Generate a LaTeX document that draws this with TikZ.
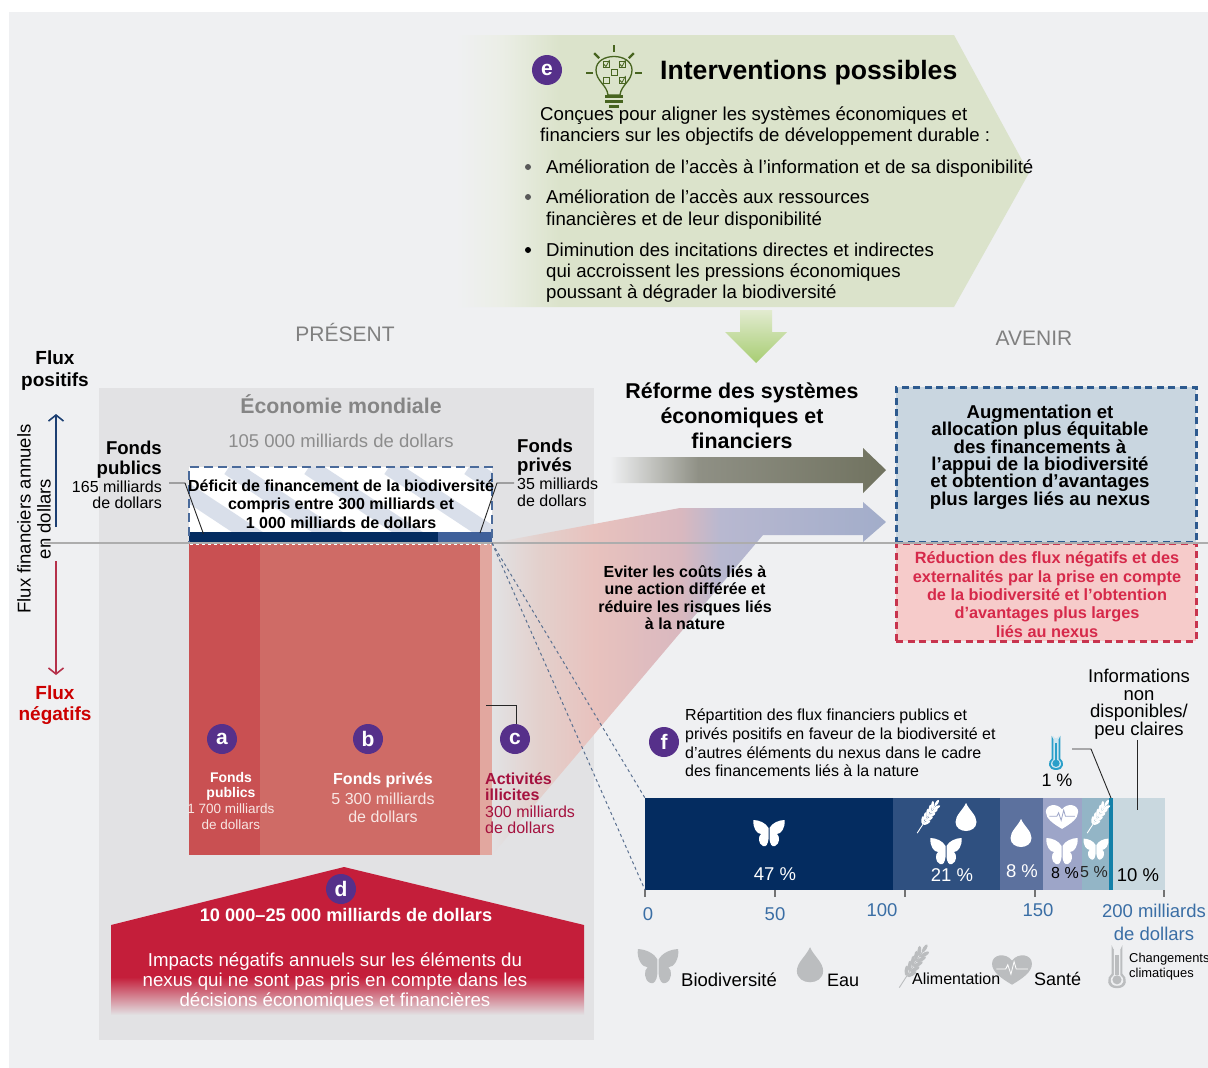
\documentclass[tikz,border=0pt]{standalone}
\usepackage{fontspec}
\setmainfont{Liberation Sans}
\usetikzlibrary{arrows.meta}
\newcommand{\fsz}[2]{\fontsize{#1}{#2}\lineskiplimit=-20pt\selectfont}
\definecolor{pagebg}{HTML}{EFF0F2}
\definecolor{econgrey}{HTML}{E2E2E4}
\definecolor{badge}{HTML}{56308A}
\definecolor{navy}{HTML}{042C60}
\definecolor{bulbgreen}{HTML}{47641F}
\definecolor{axisblue}{HTML}{3A6EA5}
\definecolor{wine}{HTML}{A5123F}
\definecolor{legendgrey}{HTML}{BBBDBF}
\definecolor{thermoblue}{HTML}{2A9FC9}
\definecolor{thermopale}{HTML}{CFE6F0}
\definecolor{sage}{HTML}{DBE3CB}
\definecolor{sagepale}{HTML}{EBEEE6}
\definecolor{leafgreen}{HTML}{A7CD72}
\definecolor{leafpale}{HTML}{E2EBD0}
\definecolor{olivegrey}{HTML}{70725F}
\definecolor{olivemid}{HTML}{8F9085}
\definecolor{pinka}{HTML}{E3D0CC}
\definecolor{pinkb}{HTML}{E8C2BE}
\definecolor{pinkc}{HTML}{D9B8BF}
\definecolor{lilaca}{HTML}{B8B8D0}
\definecolor{lilacb}{HTML}{A2ADCA}
\definecolor{redpub}{HTML}{C95052}
\definecolor{redpri}{HTML}{CF6B66}
\definecolor{redill}{HTML}{E2A79F}
\definecolor{crimson}{HTML}{C41E3A}
\definecolor{stripe}{HTML}{D9DFEA}
\definecolor{midblue}{HTML}{3F609A}
\definecolor{gapdash}{HTML}{4A6A9A}
\definecolor{boxblue}{HTML}{C9D6E0}
\definecolor{dashblue}{HTML}{2D5A8F}
\definecolor{boxpink}{HTML}{F6CBCA}
\definecolor{dashred}{HTML}{C8344E}
\definecolor{segb}{HTML}{2F5080}
\definecolor{segc}{HTML}{5C719E}
\definecolor{segd}{HTML}{9DA5C8}
\definecolor{sege}{HTML}{93B5C6}
\definecolor{segf}{HTML}{1380A8}
\definecolor{segg}{HTML}{C9D8DF}
\definecolor{slashgrey}{HTML}{5A7090}
\definecolor{upnavy}{HTML}{1C3F72}
\definecolor{downred}{HTML}{B5314A}
\definecolor{negred}{HTML}{CC0000}
\definecolor{softwhite}{HTML}{F8E6E3}
\definecolor{boxredtxt}{HTML}{D6294A}
\pgfdeclarehorizontalshading{greenfade}{100bp}{color(0bp)=(pagebg); color(25bp)=(pagebg); color(29bp)=(sagepale); color(34bp)=(sage); color(100bp)=(sage)}
\pgfdeclarehorizontalshading{greyfade}{100bp}{color(0bp)=(pagebg); color(25bp)=(pagebg); color(41bp)=(olivemid); color(75bp)=(olivegrey); color(100bp)=(olivegrey)}
\pgfdeclarehorizontalshading{nexusfade}{100bp}{color(0bp)=(econgrey); color(25bp)=(econgrey); color(31bp)=(pinka); color(38bp)=(pinkb); color(49bp)=(pinkc); color(54bp)=(lilaca); color(75bp)=(lilacb); color(100bp)=(lilacb)}
\tikzset{
  txt/.style={inner sep=0pt, align=center},
  txtl/.style={inner sep=0pt, align=left, anchor=west},
  txtr/.style={inner sep=0pt, align=right, anchor=east},
  letter/.style={circle, fill=badge, minimum size=30pt, inner sep=0pt, text=white, font=\fsz{21}{21}\bfseries},
  leader/.style={draw=black!85, line width=0.9pt},
  tick/.style={draw=black!55, line width=1.2pt},
  flux/.style={->, >={Straight Barb[length=6pt,width=15pt]}, line width=1.6pt},
  axislbl/.style={txt, text=axisblue, font=\fsz{18.5}{23}},
  pct/.style={txt, text=white, font=\fsz{18.5}{20}},
  bullet/.style={circle, inner sep=0pt, minimum size=6pt},
  dashbox/.style={line width=3pt, dash pattern=on 7pt off 4.6pt, inner sep=0pt, outer sep=0pt, anchor=north west},
}
% icons: x, y, scale, colour
\newcommand{\butterfly}[4]{
  \foreach \sgn in {1,-1}{
    \fill[#4, shift={(#1,#2)}, xscale=\sgn*#3, yscale=#3] (0.5,-5) .. controls (3,-10) and (10,-13) .. (15.5,-13) .. controls (16.5,-5) and (12,1) .. (8,1) .. controls (11,3) and (11,11) .. (6,13) .. controls (3,14.5) and (1,11) .. (0.5,6) -- cycle;
  }
}
\newcommand{\waterdrop}[4]{
  \foreach \sgn in {1,-1}{
    \fill[#4, shift={(#1,#2)}, xscale=\sgn*#3, yscale=#3] (0,-15) .. controls (3,-8) and (10.5,-3) .. (10.5,4) .. controls (10.5,10) and (5,13) .. (0,13) -- cycle;
  }
}
\newcommand{\wheat}[4]{
  \begin{scope}[shift={(#1,#2)}, scale=#3, rotate=-33]
    \draw[#4, line width=0.9pt] (0,18) -- (0,-16);
    \foreach \t in {-14,-9.5,-5,-0.5,4}{
      \fill[#4, rotate around={62:(2.4,\t)}] (2.4,\t) ellipse (4 and 1.5);
      \fill[#4, rotate around={-62:(-2.4,\t)}] (-2.4,\t) ellipse (4 and 1.5);
    }
    \fill[#4] (0,-18) ellipse (1.4 and 3.5);
  \end{scope}
}
\newcommand{\heartpulse}[5]{
  \begin{scope}[shift={(#1,#2)}, scale=#3]
    \fill[#4] (0,14) .. controls (-10,8) and (-19,2) .. (-19,-6) .. controls (-19,-15) and (-6,-17) .. (0,-9) .. controls (6,-17) and (19,-15) .. (19,-6) .. controls (19,2) and (10,8) .. (0,14) -- cycle;
    \draw[#5, line width=0.8pt] (-15,-1) -- (-6,-1) -- (-4,-5) -- (-1,4) -- (2,-8) -- (4,-1) -- (15,-1);
  \end{scope}
}
\newcommand{\thermo}[5]{
  \begin{scope}[shift={(#1,#2)}, scale=#3]
    \fill[#4] (-4.5,9) -- (-4.5,-15) arc (180:0:4.5) -- (4.5,9) .. controls (9,12) and (9,21) .. (0,21) .. controls (-9,21) and (-9,12) .. (-4.5,9) -- cycle;
    \fill[#5] (-2.7,10) -- (-2.7,-15) arc (180:0:2.7) -- (2.7,10) .. controls (7,13) and (6,19) .. (0,19) .. controls (-6,19) and (-7,13) .. (-2.7,10) -- cycle;
    \fill[#4] (-1.3,10) rectangle (1.3,-7);
    \fill[#4] (0,14) circle (3.8);
  \end{scope}
}
\begin{document}
\begin{tikzpicture}[x=1pt,y=-1pt]
  \useasboundingbox (0,0) rectangle (1208,1068);
  \fill[white] (0,0) rectangle (1208,1068);
  % backgrounds
  \fill[pagebg] (9,12) rectangle (1208,1068);
  \fill[econgrey] (99,388) rectangle (594,1040);

  % interventions arrow
  \shade[shading=greenfade] (456,35) -- (954,35) -- (1029,173) -- (954,307) -- (456,307) -- cycle;
  \shade[top color=leafpale, bottom color=leafgreen] (740,310) -- (772,310) -- (772,332) -- (787,332) -- (756,363) -- (725,332) -- (740,332) -- cycle;

  % arrows to the future
  \shade[shading=greyfade] (610,457) -- (863,457) -- (863,448) -- (886,470) -- (863,493) -- (863,483) -- (610,483) -- cycle;
  \shade[shading=nexusfade] (492,543) -- (680,508) -- (863,508) -- (863,502) -- (886,522) -- (863,542) -- (863,535) -- (763,535) -- (492,855) -- cycle;

  % negative flows
  \fill[redpub] (189,543) rectangle (260,855);
  \fill[redpri] (260,543) rectangle (480,855);
  \fill[redill] (480,543) rectangle (492,855);

  % impacts house
  \fill[crimson] (344,867) -- (584,925) -- (584,977) -- (111,977) -- (111,925) -- cycle;
  \shade[top color=crimson, bottom color=econgrey] (111,977) rectangle (584,1015);

  % funding gap
  \fill[white] (189,467) rectangle (492,543);
  \begin{scope}
    \clip (189,467) rectangle (492,543);
    \foreach \x in {69,149,229,309,389,469}
      \draw[stripe, line width=17pt] (\x,467) -- (\x+115,543);
  \end{scope}
  \fill[navy] (189,532) rectangle (438,542);
  \fill[midblue] (438,532) rectangle (492,542);
  \node[dashbox, draw=gapdash, line width=2.5pt, dash pattern=on 9pt off 5pt, minimum width=303pt, minimum height=76pt] (gapbox) at (189,467) {};

  % future boxes
  \node[dashbox, fill=boxblue, draw=dashblue, minimum width=300pt, minimum height=155pt] (boxup) at (896,387) {};
  \node[dashbox, fill=boxpink, draw=dashred, minimum width=300pt, minimum height=98pt] (boxdown) at (896,543) {};

  % zero line
  \draw[black!32, line width=2.6pt] (44,543) -- (1208,543);
  \draw[white, dashed, line width=0.8pt] (190,544.5) -- (491,544.5);

  % nature finance bar
  \foreach \xa/\xb/\col in {645/893/navy, 893/1000/segb, 1000/1043/segc, 1043/1082/segd, 1082/1108.5/sege, 1108.5/1113/segf, 1113/1165/segg}
    \fill[\col] (\xa,798) rectangle (\xb,890);
  \coordinate (barNW) at (645,798);
  \coordinate (barSW) at (645,890);
  \draw[slashgrey, dashed, line width=1pt] (gapbox.south east) -- (barNW);
  \draw[slashgrey, dashed, line width=1pt] (gapbox.south east) -- (barSW);
  \foreach \x in {645,775,905,1035,1164}
    \draw[tick] (\x,890) -- (\x,897);

  % bar icons
  \butterfly{769}{833}{1}{white}
  \wheat{927}{818}{1}{white}
  \waterdrop{966}{818}{1}{white}
  \butterfly{946}{851}{1}{white}
  \waterdrop{1021}{834}{1}{white}
  \heartpulse{1062}{817}{0.85}{white}{segd}
  \butterfly{1062}{851}{1}{white}
  \wheat{1097}{818}{1}{white}
  \butterfly{1096}{849}{0.8}{white}
  \thermo{1056}{750}{0.95}{thermoblue}{thermopale}

  % legend icons
  \butterfly{658}{966}{1.3}{legendgrey}
  \waterdrop{810}{966}{1.25}{legendgrey}
  \wheat{912}{968}{1.3}{legendgrey}
  \heartpulse{1012}{970}{1.05}{legendgrey}{white}
  \thermo{1117}{963}{1.2}{legendgrey}{pagebg}

  % bulb
  \begin{scope}[shift={(614,73)}, bulbgreen]
    \draw[line width=1.3pt] (-6,22) .. controls (-7,12) and (-18,8) .. (-18,-3) .. controls (-18,-21) and (18,-21) .. (18,-3) .. controls (18,8) and (7,12) .. (6,22) -- cycle;
    \fill (-9,22) rectangle (9,25);
    \fill (-9,27) rectangle (9,30);
    \fill (-5,32) rectangle (5,35);
    \foreach \a in {-180,-135,-90,-45,0}
      \draw[line width=2.2pt] (\a:21) -- (\a:28);
    \foreach \px/\py in {-8/-9, 8/-9, -8/7, 8/7, 0/-1}
      \draw[line width=0.7pt] (\px-3,\py-3) rectangle (\px+3,\py+3);
    \foreach \px/\py in {-8/-9, 8/-9, 8/7}
      \draw[line width=0.8pt] (\px-2.5,\py) -- (\px,\py+2.5) -- (\px+3.5,\py-4);
  \end{scope}

  % badges
  \node[letter] (bade) at (547,70) {e};
  \node[letter] (bada) at (222,739) {a};
  \node[letter] (badb) at (368,739) {b};
  \node[letter] (badc) at (515,739) {c};
  \node[letter] (badd) at (341,889) {d};
  \node[letter] (badf) at (664,742) {f};

  % interventions text
  \node[txtl, font=\fsz{26.6}{30}\bfseries] (intertitle) at (660,73) {Interventions possibles};
  \node[txtl, font=\fsz{18.65}{21}] (interintro) at (540,126) {Conçues pour aligner les systèmes économiques et\\financiers sur les objectifs de développement durable :};
  \node[bullet, fill=black!65] (bula) at (528,167) {};
  \node[bullet, fill=black!65] (bulb) at (528,197) {};
  \node[bullet, fill=black] (bulc) at (528,250) {};
  \node[txtl, font=\fsz{18.65}{21}] (intera) at (546,168.5) {Amélioration de l’accès à l’information et de sa disponibilité};
  \node[txtl, font=\fsz{18.65}{22}] (interb) at (546,209.5) {Amélioration de l’accès aux ressources\\financières et de leur disponibilité};
  \node[txtl, font=\fsz{18.65}{21}] (interc) at (546,272.5) {Diminution des incitations directes et indirectes\\qui accroissent les pressions économiques\\poussant à dégrader la biodiversité};

  % headings
  \node[txt, text=black!50, font=\fsz{21}{24}] (present) at (345,332) {PRÉSENT};
  \node[txt, text=black!50, font=\fsz{21}{24}] (avenir) at (1034,338) {AVENIR};
  \node[txt, font=\fsz{21.4}{25}\bfseries] (reforme) at (742,416) {Réforme des systèmes\\économiques et\\financiers};

  % left axis
  \node[txt, font=\fsz{19}{22}\bfseries] (fluxpos) at (55,371) {Flux\\positifs};
  \node[txt, text=negred, font=\fsz{19}{21}\bfseries] (fluxneg) at (55,705.5) {Flux\\négatifs};
  \node[txt, rotate=90, font=\fsz{18.5}{20}] (fluxaxis) at (34,519) {Flux financiers annuels\\en dollars};
  \coordinate (upa) at (56,527);
  \coordinate (upb) at (56,414);
  \coordinate (dna) at (56,561);
  \coordinate (dnb) at (56,675);
  \draw[flux, upnavy] (upa) -- (upb);
  \draw[flux, downred] (dna) -- (dnb);

  % economy
  \node[txt, text=black!48, font=\fsz{21.3}{25}\bfseries] (eco) at (341,404.5) {Économie mondiale};
  \node[txt, text=black!45, font=\fsz{18.5}{22}] (ecoval) at (341,441) {105 000 milliards de dollars};
  \node[txtr, font=\fsz{18.6}{20}\bfseries] (pubt) at (162,460) {Fonds\\publics};
  \node[txtr, font=\fsz{16}{16.5}] (pubv) at (162,495) {165 milliards\\de dollars};
  \node[txtl, font=\fsz{18.6}{19}\bfseries] (prit) at (517,457.5) {Fonds\\privés};
  \node[txtl, font=\fsz{16}{17}] (priv) at (517,492.5) {35 milliards\\de dollars};
  \node[txt, font=\fsz{16}{18.5}\bfseries] (gaptxt) at (341,504) {Déficit de financement de la biodiversité\\compris entre 300 milliards et\\1 000 milliards de dollars};
  \coordinate (puba) at (169,483);
  \coordinate (pubk) at (185,483);
  \coordinate (pube) at (203.5,534);
  \coordinate (pria) at (514,483);
  \coordinate (prik) at (497,483);
  \coordinate (prie) at (480,533);
  \draw[leader] (puba) -- (pubk) -- (pube);
  \draw[leader] (pria) -- (prik) -- (prie);

  % red flows text
  \node[txt, text=white, font=\fsz{14}{15}\bfseries] (atitle) at (231,786.5) {Fonds\\publics};
  \node[txt, text=softwhite, font=\fsz{13.5}{16}] (aval) at (231,816.5) {1 700 milliards\\de dollars};
  \node[txt, text=white, font=\fsz{16}{18}\bfseries] (btitle) at (383,780) {Fonds privés};
  \node[txt, text=softwhite, font=\fsz{16}{17.5}] (bval) at (383,808) {5 300 milliards\\de dollars};
  \node[txtl, text=wine, font=\fsz{16}{16}\bfseries] (ctitle) at (485,786.5) {Activités\\illicites};
  \node[txtl, text=wine, font=\fsz{16}{16}] (cval) at (485,819.5) {300 milliards\\de dollars};
  \coordinate (cstart) at (486,705);
  \coordinate (ckink) at (516,705);
  \draw[leader] (cstart) -- (ckink) -- (badc.north -| ckink);
  \node[txt, text=white, font=\fsz{18.2}{20}\bfseries] (dtitle) at (346,915) {10 000–25 000 milliards de dollars};
  \node[txt, text=white, font=\fsz{18.7}{20}] (dtext) at (335,981.5) {Impacts négatifs annuels sur les éléments du\\nexus qui ne sont pas pris en compte dans les\\décisions économiques et financières};

  % future text
  \node[txt, font=\fsz{18.6}{17.3}\bfseries] (uptxt) at (1040,457) {Augmentation et\\allocation plus équitable\\des financements à\\l’appui de la biodiversité\\et obtention d’avantages\\plus larges liés au nexus};
  \node[txt, text=boxredtxt, font=\fsz{16.3}{18.3}\bfseries] (dntxt) at (1047,594.5) {Réduction des flux négatifs et des\\externalités par la prise en compte\\de la biodiversité et l’obtention\\d’avantages plus larges\\liés au nexus};
  \node[txt, font=\fsz{16}{17.5}\bfseries] (eviter) at (685,597.5) {Eviter les coûts liés à\\une action différée et\\réduire les risques liés\\à la nature};

  % bar text
  \node[txtl, font=\fsz{16}{18.7}] (ftxt) at (685,743) {Répartition des flux financiers publics et\\privés positifs en faveur de la biodiversité et\\d’autres éléments du nexus dans le cadre\\des financements liés à la nature};
  \node[txt, font=\fsz{18.5}{17.5}] (info) at (1139,704) {Informations\\non\\disponibles/\\peu claires};
  \node[txt, font=\fsz{18}{20}] (onepct) at (1057,780) {1 \%};
  \coordinate (infoa) at (1137,740);
  \coordinate (infob) at (1137,810);
  \coordinate (tha) at (1072,749);
  \coordinate (thk) at (1091,749);
  \coordinate (thb) at (1111,798);
  \draw[leader] (infoa) -- (infob);
  \draw[leader] (tha) -- (thk) -- (thb);
  \node[pct] (p47) at (775,874) {47 \%};
  \node[pct] (p21) at (952,875) {21 \%};
  \node[pct] (p8a) at (1022,871) {8 \%};
  \node[txt, font=\fsz{16}{18}] (p8b) at (1065,873) {8 \%};
  \node[txt, text=black!85, font=\fsz{16}{18}] (p5) at (1094,872) {5 \%};
  \node[txt, font=\fsz{18.5}{20}] (p10) at (1138,875) {10 \%};

  % axis labels
  \node[axislbl] (ax0) at (648,914) {0};
  \node[axislbl] (ax50) at (775,914) {50};
  \node[axislbl] (ax100) at (882,910) {100};
  \node[axislbl] (ax150) at (1038,910) {150};
  \node[axislbl] (ax200) at (1154,922) {200 milliards\\de dollars};

  % legend text
  \node[txtl, font=\fsz{18.5}{20}] (lbio) at (681,980) {Biodiversité};
  \node[txtl, font=\fsz{18}{20}] (leau) at (827,980) {Eau};
  \node[txtl, font=\fsz{16}{20}] (lali) at (912,979) {Alimentation};
  \node[txtl, font=\fsz{18}{20}] (lsan) at (1034,979) {Santé};
  \node[txtl, font=\fsz{12.9}{15}] (lcli) at (1129,967) {Changements\\climatiques};
\end{tikzpicture}
\end{document}
